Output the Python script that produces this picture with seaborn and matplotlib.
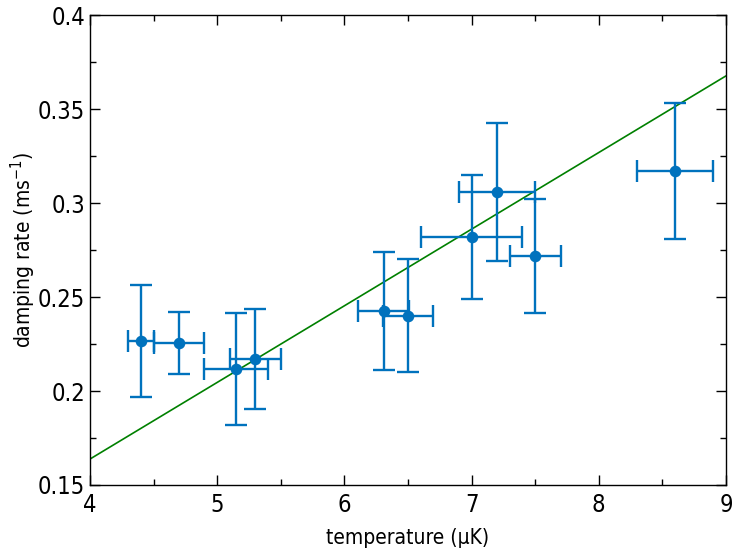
import numpy as np
import pandas as pd
import matplotlib
matplotlib.use("Agg")
import matplotlib.pyplot as plt
import seaborn as sns
from matplotlib.ticker import MultipleLocator
from matplotlib import font_manager

temperature = [4.40, 4.70, 5.15, 5.30, 6.31, 6.50, 7.00, 7.20, 7.50, 8.60]
damping = [0.2265, 0.2255, 0.2117, 0.2170, 0.2426, 0.2400, 0.2819, 0.3059, 0.2718, 0.3170]
temp_err = [0.10, 0.20, 0.25, 0.20, 0.20, 0.20, 0.40, 0.30, 0.20, 0.30]
damp_err = [0.0298, 0.0165, 0.0298, 0.0265, 0.0316, 0.0300, 0.0330, 0.0367, 0.0305, 0.0362]
fit_x = [4.0, 9.0]
fit_y = [0.1638, 0.3676]

sns.set_style("white")
names = {f.name for f in font_manager.fontManager.ttflist}
fam = ['DejaVu Sans']
stretch = 'normal'
for cand in ['Liberation Sans Narrow', 'DejaVu Sans Condensed']:
    if cand in names:
        fam = [cand, 'DejaVu Sans']
        break
else:
    stretch = 'condensed'
plt.rcParams['font.family'] = fam
plt.rcParams['font.stretch'] = stretch
plt.rcParams['mathtext.default'] = 'regular'
plt.rcParams['text.color'] = 'black'
plt.rcParams['axes.labelcolor'] = 'black'

fig = plt.figure(figsize=(7.34, 5.56), dpi=100)
ax = fig.add_axes([0.1226, 0.1277, 0.8664, 0.8453])

blue = '#0072BD'
df = pd.DataFrame({'t': temperature, 'd': damping})
fit_df = pd.DataFrame({'x': fit_x, 'y': fit_y})

sns.lineplot(data=fit_df, x='x', y='y', color='#008000', linewidth=1.2, ax=ax, zorder=1)
ax.errorbar(temperature, damping, xerr=temp_err, yerr=damp_err, fmt='none',
            ecolor=blue, elinewidth=1.7, capsize=8, capthick=1.7, zorder=2)
sns.scatterplot(data=df, x='t', y='d', color=blue, s=70, edgecolor=blue, linewidth=0, ax=ax, zorder=3)

ax.set_xlim(4, 9)
ax.set_ylim(0.15, 0.4)
ax.xaxis.set_major_locator(MultipleLocator(1))
ax.xaxis.set_minor_locator(MultipleLocator(0.5))
ax.yaxis.set_minor_locator(MultipleLocator(0.025))
ax.set_yticks([0.15, 0.2, 0.25, 0.3, 0.35, 0.4])
ax.set_yticklabels(['0.15', '0.2', '0.25', '0.3', '0.35', '0.4'])
ax.tick_params(which='both', direction='in', top=True, right=True, bottom=True, left=True,
               colors='black', labelcolor='black', width=1.0)
ax.tick_params(which='major', length=7, labelsize=17)
ax.tick_params(which='minor', length=4)
ax.tick_params(axis='x', pad=6)
for s in ax.spines.values():
    s.set_color('black')
    s.set_linewidth(1.0)

ax.set_xlabel('temperature (μK)', fontsize=15, labelpad=8)
ax.set_ylabel('damping rate (ms$^{-1}$)', fontsize=15, labelpad=0)

fig.savefig('out.png', dpi=100)
